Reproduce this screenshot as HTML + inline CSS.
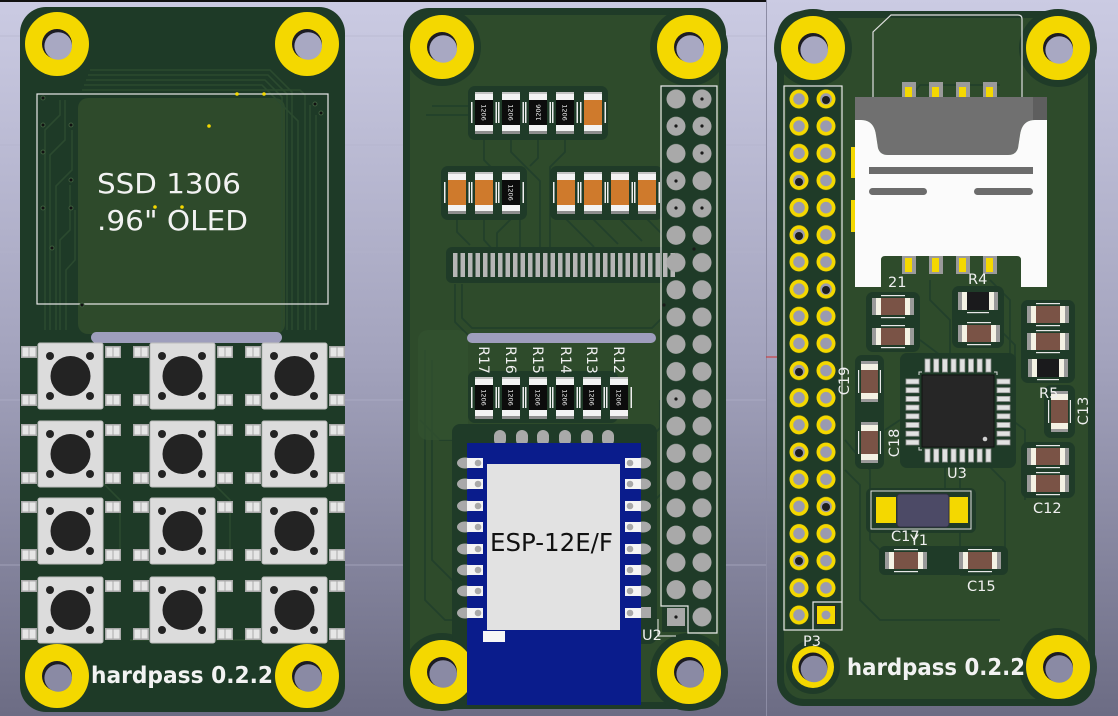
<!DOCTYPE html>
<html><head><meta charset="utf-8">
<style>html,body{margin:0;padding:0;width:1118px;height:716px;overflow:hidden;background:#9a9ab4}svg{display:block}</style>
</head><body>
<svg width="1118" height="716" viewBox="0 0 1118 716" xmlns="http://www.w3.org/2000/svg">
<defs>
<linearGradient id="bg" x1="0" y1="0" x2="0" y2="1"><stop offset="0" stop-color="#cbcbe3"/><stop offset="0.5" stop-color="#a3a3bd"/><stop offset="1" stop-color="#6c6c84"/></linearGradient>
<g id="holeT"><circle r="32" fill="#f4d800"/><circle r="15" fill="#1c1c22"/><circle cx="1.2" cy="2" r="13.8" fill="#a8a8c2"/></g>
<g id="holeB"><circle r="32" fill="#f4d800"/><circle r="15" fill="#1c1c22"/><circle cx="1.2" cy="2" r="13.8" fill="#8a8aa4"/></g>
<g id="pad2"><rect x="0" y="0" width="16" height="12" fill="#a9a9a9"/><rect x="1.5" y="1.5" width="6" height="9" fill="#e6e6e6"/><rect x="8.5" y="1.5" width="6" height="9" fill="#e6e6e6"/></g>
<g id="btn">
 <use href="#pad2" x="-17" y="3"/><use href="#pad2" x="-17" y="51"/><use href="#pad2" x="67" y="3"/><use href="#pad2" x="67" y="51"/>
 <rect x="0" y="0" width="65" height="66" rx="2" fill="#dcdcdc"/>
 <rect x="0" y="0" width="65" height="66" rx="2" fill="none" stroke="#bdbdbd" stroke-width="1"/>
 <circle cx="32.5" cy="33" r="20" fill="#232323"/>
 <circle cx="12" cy="13" r="4" fill="#232323"/><circle cx="52" cy="13" r="4" fill="#232323"/>
 <circle cx="12" cy="53" r="4" fill="#232323"/><circle cx="52" cy="53" r="4" fill="#232323"/>
</g>
<g id="rv"><rect x="-4" y="10" width="1.5" height="21" fill="#eee"/><rect x="20.5" y="10" width="1.5" height="21" fill="#eee"/><rect x="0" y="0" width="18" height="42" fill="#8e8e8e"/><rect x="0" y="0" width="18" height="39" fill="#f3f3f3"/><rect x="0" y="0" width="18" height="2" fill="#c4c4c4"/><rect x="0" y="8" width="18" height="25" fill="#0c0c0c"/></g>
<g id="cv"><rect x="-4" y="10" width="1.5" height="21" fill="#eee"/><rect x="20.5" y="10" width="1.5" height="21" fill="#eee"/><rect x="0" y="0" width="18" height="42" fill="#8e8e8e"/><rect x="0" y="0" width="18" height="39" fill="#f3f3f3"/><rect x="0" y="0" width="18" height="2" fill="#c4c4c4"/><rect x="0" y="8" width="18" height="25" fill="#cf7a2c"/></g>
<g id="ch"><rect x="0" y="0" width="42" height="17" fill="#9a9a9a"/><rect x="4" y="0" width="34" height="17" fill="#f4f2e4"/><rect x="9" y="0" width="24" height="17" fill="#7a5346"/><rect x="9" y="-3" width="24" height="1.2" fill="#e8e8e8"/><rect x="9" y="19" width="24" height="1.2" fill="#e8e8e8"/></g>
<g id="rh"><rect x="0" y="0" width="40" height="18" fill="#9a9a9a"/><rect x="4" y="0" width="32" height="18" fill="#f4f2e4"/><rect x="9" y="0" width="22" height="18" fill="#1a1a1c"/><rect x="9" y="20" width="22" height="1.2" fill="#e8e8e8"/></g>
<g id="cvb"><rect x="0" y="0" width="17" height="41" fill="#9a9a9a"/><rect x="0" y="3" width="17" height="35" fill="#f4f2e4"/><rect x="0" y="9" width="17" height="23" fill="#7a5346"/><rect x="-3" y="9" width="1.2" height="23" fill="#e8e8e8"/><rect x="18.8" y="9" width="1.2" height="23" fill="#e8e8e8"/></g>
<pattern id="pins2" patternUnits="userSpaceOnUse" x="662" y="85.37" width="54" height="27.26"><circle cx="14" cy="13.63" r="9.5" fill="#a9a9a9"/><circle cx="40" cy="13.63" r="9.5" fill="#a9a9a9"/></pattern>
<pattern id="pins3" patternUnits="userSpaceOnUse" x="785" y="85.42" width="54" height="27.16"><circle cx="14" cy="13.58" r="9.5" fill="#f4d800"/><circle cx="14" cy="13.58" r="5.8" fill="#9a9ab0"/><circle cx="41" cy="13.58" r="9.5" fill="#f4d800"/><circle cx="41" cy="13.58" r="5.8" fill="#9a9ab0"/></pattern>
<pattern id="fp" patternUnits="userSpaceOnUse" x="453" y="253" width="7.5" height="24"><rect x="0" y="0" width="4.5" height="24" fill="#b6b6b6"/></pattern>
<g id="espL"><ellipse cx="-2" cy="0" rx="8" ry="5.5" fill="#a9a9a9"/><rect x="0" y="-5" width="16" height="10" fill="#f4f4f4"/><circle cx="11" cy="0" r="3.3" fill="#a9a9a9"/></g>
<g id="espR"><ellipse cx="18" cy="0" rx="8" ry="5.5" fill="#a9a9a9"/><rect x="0" y="-5" width="16" height="10" fill="#f4f4f4"/><circle cx="5" cy="0" r="3.3" fill="#a9a9a9"/></g>
</defs>

<rect width="1118" height="716" fill="url(#bg)"/>
<rect x="0" y="0" width="766" height="2" fill="#111"/>
<g stroke="#b4b4cc" stroke-width="1" opacity="0.6">
<line x1="0" y1="36" x2="766" y2="36"/><line x1="0" y1="145" x2="766" y2="145"/><line x1="0" y1="252" x2="766" y2="252"/><line x1="0" y1="400" x2="766" y2="400"/><line x1="0" y1="565" x2="766" y2="565"/>
</g>
<line x1="766.5" y1="0" x2="766.5" y2="716" stroke="#8c8ca4" stroke-width="1"/>
<line x1="766" y1="357" x2="778" y2="357" stroke="#d03030" stroke-width="1"/>

<!-- ============ BOARD 1 ============ -->
<rect x="20" y="7" width="325" height="705" rx="26" fill="#1e3a27"/>
<rect x="78" y="98" width="207" height="236" rx="10" fill="#2e4a2b"/>
<g fill="none" stroke="#2b4a2f" stroke-width="1.6">
<path d="M90,70 H270 L292,92 V330"/><path d="M88,75 H268 L287,94 V330"/><path d="M86,80 H265 L282,97 V330"/>
<path d="M84,85 H262 L298,121 V330"/><path d="M82,90 H300 L305,95 V330"/><path d="M310,105 V330"/><path d="M316,115 V330"/>
<path d="M60,100 V115 L45,130 V330"/><path d="M65,100 V140 L50,155 V330"/><path d="M72,130 V170 L56,186 V330"/>
<path d="M70,185 V230 L60,240 V330"/><path d="M75,210 V260 L66,270 V330"/>
<path d="M100,420 V480 L120,500 V560"/><path d="M210,420 V480 L230,500 V560"/><path d="M130,640 H320"/>
</g>
<rect x="37" y="94" width="291" height="210" fill="none" stroke="#e8e8e8" stroke-width="1.2"/>
<g fill="#111" stroke="#3e5e3e" stroke-width="1"><circle cx="43" cy="98" r="2"/><circle cx="43" cy="125" r="2"/><circle cx="71" cy="125" r="2"/><circle cx="43" cy="152" r="2"/><circle cx="71" cy="180" r="2"/><circle cx="43" cy="208" r="2"/><circle cx="71" cy="208" r="2"/><circle cx="52" cy="248" r="2"/><circle cx="315" cy="104" r="2"/><circle cx="321" cy="113" r="2"/><circle cx="82" cy="305" r="2"/></g>
<g fill="#f4d800"><circle cx="237" cy="94" r="1.8"/><circle cx="264" cy="94" r="1.8"/><circle cx="209" cy="126" r="1.8"/><circle cx="155" cy="207" r="1.8"/><circle cx="182" cy="207" r="1.8"/></g>
<text x="97" y="193" font-family="DejaVu Sans, Liberation Sans, sans-serif" font-size="27.5" fill="#f2f2f2" textLength="144" lengthAdjust="spacingAndGlyphs">SSD 1306</text>
<text x="97" y="230" font-family="DejaVu Sans, Liberation Sans, sans-serif" font-size="27.5" fill="#f2f2f2" textLength="151" lengthAdjust="spacingAndGlyphs">.96" OLED</text>
<rect x="91" y="332" width="191" height="11" rx="5.5" fill="#9e9ebc"/>
<use href="#btn" x="38" y="343"/><use href="#btn" x="150" y="343"/><use href="#btn" x="262" y="343"/>
<use href="#btn" x="38" y="421"/><use href="#btn" x="150" y="421"/><use href="#btn" x="262" y="421"/>
<use href="#btn" x="38" y="498"/><use href="#btn" x="150" y="498"/><use href="#btn" x="262" y="498"/>
<use href="#btn" x="38" y="577"/><use href="#btn" x="150" y="577"/><use href="#btn" x="262" y="577"/>
<use href="#holeT" x="57" y="44"/><use href="#holeT" x="307" y="44"/>
<use href="#holeB" x="57" y="676"/><use href="#holeB" x="307" y="676"/>
<text x="91" y="683" font-family="DejaVu Sans, Liberation Sans, sans-serif" font-weight="bold" font-size="23" fill="#f2f2f2" textLength="182" lengthAdjust="spacingAndGlyphs">hardpass 0.2.2</text>

<!-- ============ BOARD 2 ============ -->
<rect x="403" y="8" width="323" height="701" rx="26" fill="#1f3b28"/>
<rect x="410" y="15" width="309" height="687" rx="20" fill="#2e4b2b"/>
<circle cx="442" cy="47" r="39" fill="#1f3b28"/><circle cx="689" cy="47" r="39" fill="#1f3b28"/>
<circle cx="442" cy="672" r="39" fill="#1f3b28"/><circle cx="689" cy="672" r="39" fill="#1f3b28"/>
<g fill="none" stroke="#22402b" stroke-width="1.8">
<path d="M432,106 H472"/><path d="M426,115 H472"/>
<path d="M484,140 V160 L520,196 V250"/><path d="M511,140 V152 L540,181 V250"/><path d="M538,140 V158 L530,166"/><path d="M565,140 V152 L550,167 V250"/>
<path d="M457,219 V232 L470,245"/><path d="M484,219 V240 L493,250"/><path d="M511,219 L497,233 V250"/>
<path d="M566,219 L594,247"/><path d="M593,219 L618,244"/><path d="M620,219 L642,241"/><path d="M647,219 L664,236"/>
<path d="M462,284 V318 L472,328 H652 L668,312"/><path d="M455,284 V322 L470,337"/>
<path d="M425,350 V600 L445,620 H462"/><path d="M432,360 V560 L455,583"/><path d="M420,420 L440,440 H458"/>
<path d="M648,440 L660,428 V400"/><path d="M655,500 L668,487"/>
</g>
<rect x="418" y="330" width="50" height="110" rx="10" fill="#335230" opacity="0.7"/>
<!-- component halos -->
<rect x="468" y="86" width="140" height="54" rx="7" fill="#1f3b28"/>
<rect x="441" y="166" width="86" height="54" rx="7" fill="#1f3b28"/>
<rect x="550" y="166" width="113" height="54" rx="7" fill="#1f3b28"/>
<rect x="468" y="371" width="150" height="52" rx="7" fill="#1f3b28"/>
<rect x="446" y="247" width="236" height="36" rx="6" fill="#1f3b28"/>
<rect x="662" y="86" width="54" height="546" fill="#1f3b28"/>
<rect x="452" y="424" width="205" height="220" rx="8" fill="#1f3b28"/>
<!-- top resistors -->
<use href="#rv" x="475" y="92"/><use href="#rv" x="502" y="92"/><use href="#rv" x="529" y="92"/><use href="#rv" x="556" y="92"/><use href="#cv" x="584" y="92"/>
<use href="#cv" x="448" y="172"/><use href="#cv" x="475" y="172"/><use href="#rv" x="502" y="172"/>
<use href="#cv" x="557" y="172"/><use href="#cv" x="584" y="172"/><use href="#cv" x="611" y="172"/><use href="#cv" x="638" y="172"/>
<use href="#rv" x="475" y="377"/><use href="#rv" x="502" y="377"/><use href="#rv" x="529" y="377"/><use href="#rv" x="556" y="377"/><use href="#rv" x="583" y="377"/><use href="#rv" x="610" y="377"/>
<g font-family="DejaVu Sans, Liberation Sans, sans-serif" font-size="6.5" fill="#f0f0f0" text-anchor="middle">
<text transform="translate(484,112.5) rotate(90)" dy="2.3">1206</text>
<text transform="translate(511,112.5) rotate(90)" dy="2.3">1206</text>
<text transform="translate(538,112.5) rotate(-90)" dy="2.3">1206</text>
<text transform="translate(565,112.5) rotate(90)" dy="2.3">1206</text>
<text transform="translate(511,192.5) rotate(90)" dy="2.3">1206</text>
<text transform="translate(484,397.5) rotate(90)" dy="2.3">1206</text>
<text transform="translate(511,397.5) rotate(90)" dy="2.3">1206</text>
<text transform="translate(538,397.5) rotate(90)" dy="2.3">1206</text>
<text transform="translate(565,397.5) rotate(90)" dy="2.3">1206</text>
<text transform="translate(592,397.5) rotate(90)" dy="2.3">1206</text>
<text transform="translate(619,397.5) rotate(90)" dy="2.3">1206</text>
</g>
<rect x="453" y="253" width="225" height="24" fill="url(#fp)"/>
<rect x="467" y="333" width="189" height="10" rx="5" fill="#9e9ebc"/>
<g font-family="DejaVu Sans, Liberation Sans, sans-serif" font-size="14" fill="#f0f0f0" text-anchor="middle">
<text transform="translate(484,360) rotate(90)" dy="5">R17</text>
<text transform="translate(511,360) rotate(90)" dy="5">R16</text>
<text transform="translate(538,360) rotate(90)" dy="5">R15</text>
<text transform="translate(566,360) rotate(90)" dy="5">R14</text>
<text transform="translate(592,360) rotate(90)" dy="5">R13</text>
<text transform="translate(619,360) rotate(90)" dy="5">R12</text>
</g>
<!-- header -->
<rect x="662" y="85.37" width="54" height="545.2" fill="url(#pins2)"/>
<rect x="665" y="606" width="22" height="22" fill="#1f3b28"/>
<rect x="667" y="608" width="18" height="18" fill="#a9a9a9"/>
<g fill="#1a1a1a"><circle cx="702" cy="99" r="1.6"/><circle cx="676" cy="126" r="1.6"/><circle cx="702" cy="126" r="1.6"/><circle cx="702" cy="153" r="1.6"/><circle cx="676" cy="181" r="1.6"/><circle cx="676" cy="208" r="1.6"/><circle cx="702" cy="208" r="1.6"/><circle cx="676" cy="399" r="1.6"/><circle cx="676" cy="617" r="1.6"/><circle cx="694" cy="249" r="1.6"/><circle cx="664" cy="305" r="1.6"/></g>
<path d="M661,86 H717 V633 H688 V606 H661 Z" fill="none" stroke="#e8e8e8" stroke-width="1.2"/>
<!-- ESP -->
<g fill="#a9a9a9"><rect x="494" y="430" width="12" height="16" rx="6"/><rect x="516" y="430" width="12" height="16" rx="6"/><rect x="537" y="430" width="12" height="16" rx="6"/><rect x="559" y="430" width="12" height="16" rx="6"/><rect x="581" y="430" width="12" height="16" rx="6"/><rect x="602" y="430" width="12" height="16" rx="6"/></g>
<rect x="467" y="443" width="174" height="262" fill="#0a1c8c"/>
<rect x="487" y="464" width="133" height="166" fill="#e2e2e2"/>
<rect x="483" y="631" width="22" height="11" fill="#f6f6f6"/>
<use href="#espL" x="467" y="463"/><use href="#espL" x="467" y="484"/><use href="#espL" x="467" y="506"/><use href="#espL" x="467" y="527"/><use href="#espL" x="467" y="549"/><use href="#espL" x="467" y="570"/><use href="#espL" x="467" y="591"/><use href="#espL" x="467" y="613"/>
<use href="#espR" x="625" y="463"/><use href="#espR" x="625" y="484"/><use href="#espR" x="625" y="506"/><use href="#espR" x="625" y="527"/><use href="#espR" x="625" y="549"/><use href="#espR" x="625" y="570"/><use href="#espR" x="625" y="591"/>
<rect x="625" y="608" width="16" height="10" fill="#f4f4f4"/><circle cx="630" cy="613" r="3.3" fill="#a9a9a9"/><rect x="641" y="607" width="10" height="11" fill="#a9a9a9"/>
<text x="490" y="551" font-family="DejaVu Sans, Liberation Sans, sans-serif" font-size="25" fill="#111" textLength="123" lengthAdjust="spacingAndGlyphs">ESP-12E/F</text>
<path d="M658,619 V636 H676" fill="none" stroke="#e8e8e8" stroke-width="1"/>
<text x="642" y="640" font-family="DejaVu Sans, Liberation Sans, sans-serif" font-size="14.5" fill="#f0f0f0">U2</text>
<use href="#holeT" x="442" y="47"/><use href="#holeT" x="689" y="47"/>
<use href="#holeB" x="442" y="672"/><use href="#holeB" x="689" y="672"/>
<rect x="467" y="643" width="174" height="62" fill="#0a1c8c"/>

<!-- ============ BOARD 3 ============ -->
<rect x="777" y="11" width="318" height="695" rx="26" fill="#1f3b28"/>
<rect x="784" y="18" width="304" height="681" rx="20" fill="#2e4b2b"/>
<circle cx="813" cy="48" r="39" fill="#1f3b28"/><circle cx="1058" cy="48" r="39" fill="#1f3b28"/>
<circle cx="1058" cy="667" r="39" fill="#1f3b28"/><circle cx="813" cy="667" r="27" fill="#1f3b28"/>
<g fill="none" stroke="#22402b" stroke-width="1.8">
<path d="M905,105 L920,85 H1000"/><path d="M930,280 V300 L950,320 V370"/><path d="M990,280 L1010,300 V370"/>
<path d="M920,340 L940,355 V370"/><path d="M1000,330 L1015,345 V380 L1012,400"/>
<path d="M960,462 V560 L970,570"/><path d="M945,462 V490"/><path d="M985,462 L1005,482 V560 L990,575 H960"/>
<path d="M845,440 L870,470 V540 L885,555"/><path d="M845,470 L860,485 V600 L880,620 H1000"/>
<path d="M1012,420 L1025,430 V500"/><path d="M900,420 L885,430"/>
</g>
<!-- halos -->
<rect x="866" y="292" width="54" height="60" rx="7" fill="#1f3b28"/>
<rect x="952" y="286" width="52" height="62" rx="7" fill="#1f3b28"/>
<rect x="1021" y="300" width="54" height="83" rx="7" fill="#1f3b28"/>
<rect x="1044" y="385" width="31" height="53" rx="7" fill="#1f3b28"/>
<rect x="1021" y="442" width="54" height="56" rx="7" fill="#1f3b28"/>
<rect x="855" y="355" width="29" height="114" rx="7" fill="#1f3b28"/>
<rect x="900" y="353" width="116" height="115" rx="7" fill="#1f3b28"/>
<rect x="866" y="488" width="110" height="45" rx="6" fill="#1f3b28"/>
<rect x="879" y="546" width="129" height="29" rx="6" fill="#1f3b28"/>
<rect x="786" y="86" width="54" height="544" fill="#1f3b28"/>
<!-- SD card -->
<path d="M873,97 V32 L891,15 H1018 Q1022,15 1022,19 V97" fill="none" stroke="#e0e0e0" stroke-width="1.2"/>
<g><rect x="902" y="82" width="14" height="23" fill="#9a9a9a"/><rect x="905" y="87" width="7" height="18" fill="#f4d800"/>
<rect x="929" y="82" width="14" height="23" fill="#9a9a9a"/><rect x="932" y="87" width="7" height="18" fill="#f4d800"/>
<rect x="956" y="82" width="14" height="23" fill="#9a9a9a"/><rect x="959" y="87" width="7" height="18" fill="#f4d800"/>
<rect x="983" y="82" width="14" height="23" fill="#9a9a9a"/><rect x="986" y="87" width="7" height="18" fill="#f4d800"/></g>
<rect x="851" y="147" width="5" height="31" fill="#f4d800"/><rect x="851" y="200" width="5" height="32" fill="#f4d800"/>
<path d="M855,97 H1047 V120 H1035 Q1022,120 1020,135 L1018,148 Q1016,155 1008,155 H888 Q880,155 878,148 L876,135 Q874,120 861,120 H855 Z" fill="#707070"/>
<rect x="1033" y="97" width="14" height="23" fill="#5e5e5e"/>
<path d="M855,120 H861 Q874,120 876,135 L878,148 Q880,155 888,155 H1008 Q1016,155 1018,148 L1020,135 Q1022,120 1035,120 H1047 V287 H1021 V260 Q1021,256 1017,256 H885 Q881,256 881,260 V287 H855 Z" fill="#fbfbfb"/>
<rect x="869" y="167" width="164" height="7" fill="#6c6c6c"/>
<rect x="869" y="188" width="58" height="7" rx="3.5" fill="#6c6c6c"/><rect x="974" y="188" width="59" height="7" rx="3.5" fill="#6c6c6c"/>
<g><rect x="902" y="256" width="14" height="18" fill="#9a9a9a"/><rect x="905" y="258" width="7" height="14" fill="#f4d800"/>
<rect x="929" y="256" width="14" height="18" fill="#9a9a9a"/><rect x="932" y="258" width="7" height="14" fill="#f4d800"/>
<rect x="956" y="256" width="14" height="18" fill="#9a9a9a"/><rect x="959" y="258" width="7" height="14" fill="#f4d800"/>
<rect x="983" y="256" width="14" height="18" fill="#9a9a9a"/><rect x="986" y="258" width="7" height="14" fill="#f4d800"/></g>
<!-- components -->
<use href="#ch" x="872" y="298"/><use href="#ch" x="872" y="328"/>
<use href="#rh" x="958" y="292"/><use href="#ch" x="958" y="325"/>
<use href="#ch" x="1027" y="306"/><use href="#ch" x="1027" y="333"/><use href="#rh" x="1028" y="359"/>
<use href="#cvb" x="861" y="361"/><use href="#cvb" x="861" y="422"/><use href="#cvb" x="1051" y="391"/>
<use href="#ch" x="1027" y="448"/><use href="#ch" x="1027" y="475"/>
<use href="#ch" x="885" y="552"/><use href="#ch" x="959" y="552"/>
<!-- U3 -->
<g fill="#e2e2e2" stroke="#9a9a9a" stroke-width="0.8">
<rect x="925" y="359" width="5" height="13"/><rect x="933.7" y="359" width="5" height="13"/><rect x="942.4" y="359" width="5" height="13"/><rect x="951.1" y="359" width="5" height="13"/><rect x="959.8" y="359" width="5" height="13"/><rect x="968.5" y="359" width="5" height="13"/><rect x="977.2" y="359" width="5" height="13"/><rect x="985.9" y="359" width="5" height="13"/>
<rect x="925" y="449" width="5" height="13"/><rect x="933.7" y="449" width="5" height="13"/><rect x="942.4" y="449" width="5" height="13"/><rect x="951.1" y="449" width="5" height="13"/><rect x="959.8" y="449" width="5" height="13"/><rect x="968.5" y="449" width="5" height="13"/><rect x="977.2" y="449" width="5" height="13"/><rect x="985.9" y="449" width="5" height="13"/>
<rect x="906" y="379" width="13" height="5"/><rect x="906" y="387.7" width="13" height="5"/><rect x="906" y="396.4" width="13" height="5"/><rect x="906" y="405.1" width="13" height="5"/><rect x="906" y="413.8" width="13" height="5"/><rect x="906" y="422.5" width="13" height="5"/><rect x="906" y="431.2" width="13" height="5"/><rect x="906" y="439.9" width="13" height="5"/>
<rect x="997" y="379" width="13" height="5"/><rect x="997" y="387.7" width="13" height="5"/><rect x="997" y="396.4" width="13" height="5"/><rect x="997" y="405.1" width="13" height="5"/><rect x="997" y="413.8" width="13" height="5"/><rect x="997" y="422.5" width="13" height="5"/><rect x="997" y="431.2" width="13" height="5"/><rect x="997" y="439.9" width="13" height="5"/>
</g>
<rect x="922" y="375" width="72" height="72" fill="#262626" stroke="#111" stroke-width="1"/>
<circle cx="985" cy="439" r="2.3" fill="#cfcfcf"/>
<path d="M919,375 V372 H922 M994,372 H997 V375 M919,447 V450 H922" fill="none" stroke="#e0e0e0" stroke-width="1"/>
<!-- Y1 -->
<rect x="871" y="491" width="100" height="38" fill="none" stroke="#e0e0e0" stroke-width="1"/>
<rect x="876" y="497" width="20" height="26" fill="#f4d800"/><rect x="948" y="497" width="20" height="26" fill="#f4d800"/>
<rect x="897" y="494" width="52" height="33" rx="3" fill="#4c4a66" stroke="#2e2e40" stroke-width="1"/>
<!-- header -->
<rect x="785" y="85.42" width="54" height="543.2" fill="url(#pins3)"/>
<rect x="816" y="605" width="20" height="20" fill="#2a2a2a"/><rect x="817" y="606" width="18" height="18" fill="#f4d800"/><circle cx="826" cy="615" r="4.5" fill="#9a9ab0"/>
<g fill="#1e1e1e"><circle cx="826" cy="100" r="4"/><circle cx="799" cy="182" r="4"/><circle cx="799" cy="236" r="4"/><circle cx="826" cy="290" r="4"/><circle cx="799" cy="372" r="4"/><circle cx="799" cy="453" r="4"/><circle cx="826" cy="507" r="4"/><circle cx="799" cy="561" r="4"/></g>
<rect x="784" y="86" width="58" height="544" fill="none" stroke="#e8e8e8" stroke-width="1.2"/>
<path d="M813,630 V602 H842" fill="none" stroke="#e8e8e8" stroke-width="1.2"/>
<g font-family="DejaVu Sans, Liberation Sans, sans-serif" font-size="14.5" fill="#f0f0f0">
<text x="888" y="287">21</text>
<text x="968" y="284">R4</text>
<text x="1039" y="398">R5</text>
<text x="947" y="478">U3</text>
<text x="1033" y="513">C12</text>
<text x="891" y="541">C17</text>
<text x="910" y="545">Y1</text>
<text x="967" y="591">C15</text>
<text x="803" y="646">P3</text>
<text transform="translate(844,381) rotate(-90)" text-anchor="middle" dy="5">C19</text>
<text transform="translate(894,443) rotate(-90)" text-anchor="middle" dy="5">C18</text>
<text transform="translate(1083,411) rotate(-90)" text-anchor="middle" dy="5">C13</text>
</g>
<use href="#holeT" x="813" y="48"/><use href="#holeT" x="1058" y="48"/>
<use href="#holeB" x="1058" y="667"/>
<circle cx="813" cy="667" r="21" fill="#f4d800"/><circle cx="813" cy="667" r="14.5" fill="#1c1c22"/><circle cx="814" cy="669" r="13.3" fill="#8a8aa4"/>
<text x="847" y="675" font-family="DejaVu Sans, Liberation Sans, sans-serif" font-weight="bold" font-size="23" fill="#f2f2f2" textLength="178" lengthAdjust="spacingAndGlyphs">hardpass 0.2.2</text>
</svg>
</body></html>
